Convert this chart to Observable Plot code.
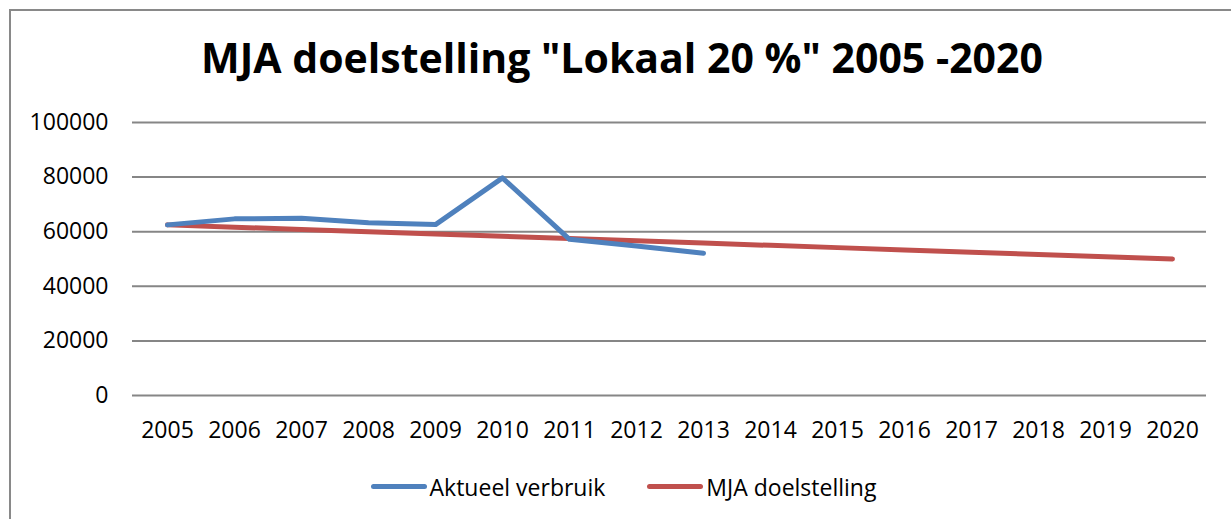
<!DOCTYPE html>
<html>
<head>
<meta charset="utf-8">
<script src="https://cdn.jsdelivr.net/npm/d3@7"></script>
<script src="https://cdn.jsdelivr.net/npm/@observablehq/plot@0.6"></script>
<style>
  html, body { margin: 0; padding: 0; background: #fff; overflow: hidden; }
  #wrap { position: relative; width: 1231px; height: 519px; font-family: "Open Sans", sans-serif; }
  #frame { position: absolute; left: 9px; top: 9px; width: 1300px; height: 600px; border: 2px solid #898989; box-sizing: border-box; }
  #title { position: absolute; left: 0; width: 1244px; top: 29px; text-align: center; font-weight: 700; font-size: 41px; color: #000; white-space: nowrap; }
  #chart { position: absolute; left: 0; top: 0; }
  #legend { position: absolute; left: 0; width: 1247px; top: 464px; text-align: center; font-size: 23px; color: #000; white-space: nowrap; }
  .item { display: inline-flex; align-items: center; margin: 0 21px; }
  .swatch { display: inline-block; width: 56px; height: 5px; border-radius: 3px; margin-right: 3px; }
</style>
</head>
<body>
<div id="wrap">
  <div id="frame"></div>
  <div id="chart"></div>
  <div id="title">MJA doelstelling "Lokaal 20 %" 2005 -2020</div>
  <div id="legend"></div>
</div>
<script>
const years = ["2005","2006","2007","2008","2009","2010","2011","2012","2013","2014","2015","2016","2017","2018","2019","2020"];
const actualYears = ["2005","2006","2007","2008","2009","2010","2011","2012","2013"];
const actualValues = [62500, 64700, 64900, 63300, 62600, 79700, 57200, 54800, 52100];
const targetValues = [62500, 61667, 60833, 60000, 59167, 58333, 57500, 56667, 55833, 55000, 54167, 53333, 52500, 51667, 50833, 50000];
const yTicks = [0, 20000, 40000, 60000, 80000, 100000];
const seriesNames = ["Aktueel verbruik", "MJA doelstelling"];
const seriesColors = ["#4F81BD", "#C0504D"];

const actual = actualYears.map((y, i) => ({year: y, value: actualValues[i]}));
const target = years.map((y, i) => ({year: y, value: targetValues[i]}));

const plot = Plot.plot({
  width: 1231,
  height: 519,
  marginLeft: 132,
  marginRight: 25,
  marginTop: 122,
  marginBottom: 124,
  style: {fontFamily: "Open Sans, sans-serif", fontSize: "23px", color: "#000", background: "transparent"},
  x: {type: "point", domain: years, padding: 0.5, label: null, tickSize: 0, tickPadding: 26},
  y: {domain: [0, 100000], ticks: yTicks, tickFormat: d => String(d), label: null, tickSize: 0, tickPadding: 24},
  marks: [
    Plot.gridY(yTicks, {stroke: "#868686", strokeOpacity: 1, strokeWidth: 2}),
    Plot.axisX({tickSize: 0, tickPadding: 26, fontSize: 23}),
    Plot.axisY({ticks: yTicks, tickFormat: d => String(d), tickSize: 0, tickPadding: 24, fontSize: 23}),
    Plot.line(target, {x: "year", y: "value", stroke: seriesColors[1], strokeWidth: 5, strokeLinecap: "round", strokeLinejoin: "round"}),
    Plot.line(actual, {x: "year", y: "value", stroke: seriesColors[0], strokeWidth: 5, strokeLinecap: "round", strokeLinejoin: "round"})
  ]
});
document.getElementById("chart").appendChild(plot);

const legend = document.getElementById("legend");
seriesNames.forEach((n, i) => {
  const it = document.createElement("span");
  it.className = "item";
  it.innerHTML = `<span class="swatch" style="background:${seriesColors[i]}"></span>${n}`;
  legend.appendChild(it);
});
</script>
</body>
</html>
